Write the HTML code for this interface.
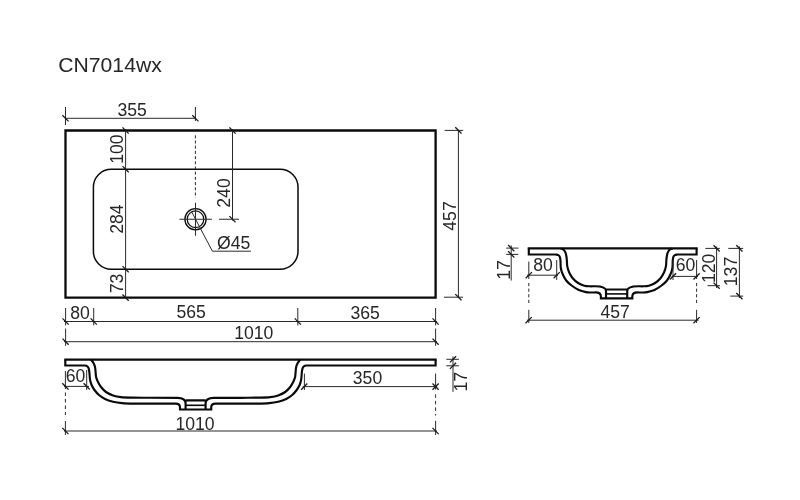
<!DOCTYPE html>
<html><head><meta charset="utf-8"><style>
html,body{margin:0;padding:0;background:#fff;width:800px;height:500px;overflow:hidden}
svg{display:block;will-change:transform}
text{font-family:"Liberation Sans",sans-serif}
</style></head><body>
<svg width="800" height="500" viewBox="0 0 800 500">
<rect width="800" height="500" fill="#fff"/>
<text transform="translate(58.2,71.8) scale(1.06,1)" x="0" y="0" font-size="20" text-anchor="start" fill="#262626">CN7014wx</text>
<path d="M65.5,130.5 H435.6 V297.6 H65.5 Z" stroke="#0a0a0a" stroke-width="2.3" fill="none" stroke-linejoin="miter" stroke-linecap="butt"/>
<path d="M111.4,169.2 H280 A18,18 0 0 1 298,187.2 V251.2 A18,18 0 0 1 280,269.2 H111.4 A18,18 0 0 1 93.4,251.2 V187.2 A18,18 0 0 1 111.4,169.2 Z" stroke="#0a0a0a" stroke-width="1.5" fill="none" stroke-linejoin="miter" stroke-linecap="butt"/>
<line x1="65.5" y1="118.3" x2="195.4" y2="118.3" stroke="#2a2a2a" stroke-width="1.0"/>
<line x1="65.5" y1="107" x2="65.5" y2="125" stroke="#2a2a2a" stroke-width="1.0"/>
<line x1="195.4" y1="107" x2="195.4" y2="121" stroke="#2a2a2a" stroke-width="1.0"/>
<line x1="62.4" y1="115.2" x2="68.6" y2="121.39999999999999" stroke="#1a1a1a" stroke-width="1.3"/>
<line x1="192.3" y1="115.2" x2="198.5" y2="121.39999999999999" stroke="#1a1a1a" stroke-width="1.3"/>
<text x="132.2" y="116" font-size="17.6" text-anchor="middle" fill="#262626">355</text>
<line x1="195.4" y1="135.3" x2="195.4" y2="198" stroke="#2a2a2a" stroke-width="1.0" stroke-dasharray="3,2.2"/>
<line x1="125.6" y1="129" x2="125.6" y2="298.5" stroke="#2a2a2a" stroke-width="1.0"/>
<line x1="122.5" y1="127.4" x2="128.7" y2="133.6" stroke="#1a1a1a" stroke-width="1.3"/>
<line x1="122.5" y1="166.1" x2="128.7" y2="172.29999999999998" stroke="#1a1a1a" stroke-width="1.3"/>
<line x1="122.5" y1="266.09999999999997" x2="128.7" y2="272.3" stroke="#1a1a1a" stroke-width="1.3"/>
<line x1="122.5" y1="294.5" x2="128.7" y2="300.70000000000005" stroke="#1a1a1a" stroke-width="1.3"/>
<text transform="translate(122.8,149.2) rotate(-90) scale(1.0,1)" x="0" y="0" font-size="17.6" text-anchor="middle" fill="#262626">100</text>
<text transform="translate(123,219.1) rotate(-90) scale(1.0,1)" x="0" y="0" font-size="17.6" text-anchor="middle" fill="#262626">284</text>
<text transform="translate(123,283.5) rotate(-90) scale(1.0,1)" x="0" y="0" font-size="17.6" text-anchor="middle" fill="#262626">73</text>
<line x1="232.5" y1="129" x2="232.5" y2="220.5" stroke="#2a2a2a" stroke-width="1.0"/>
<line x1="229.4" y1="127.4" x2="235.6" y2="133.6" stroke="#1a1a1a" stroke-width="1.3"/>
<line x1="229.4" y1="216.15" x2="235.6" y2="222.35" stroke="#1a1a1a" stroke-width="1.3"/>
<line x1="219" y1="219.25" x2="239" y2="219.25" stroke="#2a2a2a" stroke-width="1.0"/>
<text transform="translate(230.3,193) rotate(-90) scale(1.0,1)" x="0" y="0" font-size="17.6" text-anchor="middle" fill="#262626">240</text>
<circle cx="195.5" cy="219.25" r="10.6" stroke="#0a0a0a" stroke-width="1.3" fill="none"/>
<circle cx="195.5" cy="219.25" r="8.3" stroke="#0a0a0a" stroke-width="1.2" fill="none"/>
<line x1="179.4" y1="219.25" x2="211.9" y2="219.25" stroke="#2a2a2a" stroke-width="1.0"/>
<line x1="195.5" y1="202.75" x2="195.5" y2="235.75" stroke="#2a2a2a" stroke-width="1.0"/>
<path d="M191.5,211.5 L212.4,251.2 H250.9" stroke="#2a2a2a" stroke-width="1.0" fill="none" stroke-linejoin="miter" stroke-linecap="butt"/>
<text x="233.6" y="249" font-size="17.6" text-anchor="middle" fill="#262626">&#216;45</text>
<line x1="458.4" y1="130.4" x2="458.4" y2="297.2" stroke="#2a2a2a" stroke-width="1.0"/>
<line x1="444.6" y1="130.4" x2="463.2" y2="130.4" stroke="#2a2a2a" stroke-width="1.0"/>
<line x1="444" y1="297.2" x2="463" y2="297.2" stroke="#2a2a2a" stroke-width="1.0"/>
<line x1="455.29999999999995" y1="127.30000000000001" x2="461.5" y2="133.5" stroke="#1a1a1a" stroke-width="1.3"/>
<line x1="455.29999999999995" y1="294.09999999999997" x2="461.5" y2="300.3" stroke="#1a1a1a" stroke-width="1.3"/>
<text transform="translate(455.6,216) rotate(-90) scale(1.0,1)" x="0" y="0" font-size="17.6" text-anchor="middle" fill="#262626">457</text>
<line x1="64" y1="321.5" x2="437" y2="321.5" stroke="#2a2a2a" stroke-width="1.0"/>
<line x1="65.6" y1="308" x2="65.6" y2="325.4" stroke="#2a2a2a" stroke-width="1.0"/>
<line x1="62.49999999999999" y1="318.4" x2="68.69999999999999" y2="324.6" stroke="#1a1a1a" stroke-width="1.3"/>
<line x1="93.7" y1="308" x2="93.7" y2="325.4" stroke="#2a2a2a" stroke-width="1.0"/>
<line x1="90.60000000000001" y1="318.4" x2="96.8" y2="324.6" stroke="#1a1a1a" stroke-width="1.3"/>
<line x1="297.8" y1="308" x2="297.8" y2="325.4" stroke="#2a2a2a" stroke-width="1.0"/>
<line x1="294.7" y1="318.4" x2="300.90000000000003" y2="324.6" stroke="#1a1a1a" stroke-width="1.3"/>
<line x1="435.6" y1="308" x2="435.6" y2="325.4" stroke="#2a2a2a" stroke-width="1.0"/>
<line x1="432.5" y1="318.4" x2="438.70000000000005" y2="324.6" stroke="#1a1a1a" stroke-width="1.3"/>
<text x="80.1" y="319" font-size="17.6" text-anchor="middle" fill="#262626">80</text>
<text x="191.1" y="318" font-size="17.6" text-anchor="middle" fill="#262626">565</text>
<text x="365.15" y="319" font-size="17.6" text-anchor="middle" fill="#262626">365</text>
<line x1="64" y1="341.7" x2="437" y2="341.7" stroke="#2a2a2a" stroke-width="1.0"/>
<line x1="65.6" y1="328.5" x2="65.6" y2="345.8" stroke="#2a2a2a" stroke-width="1.0"/>
<line x1="62.49999999999999" y1="338.59999999999997" x2="68.69999999999999" y2="344.8" stroke="#1a1a1a" stroke-width="1.3"/>
<line x1="435.6" y1="328.5" x2="435.6" y2="345.8" stroke="#2a2a2a" stroke-width="1.0"/>
<line x1="432.5" y1="338.59999999999997" x2="438.70000000000005" y2="344.8" stroke="#1a1a1a" stroke-width="1.3"/>
<text x="253.8" y="338.9" font-size="17.6" text-anchor="middle" fill="#262626">1010</text>
<line x1="64.3" y1="359.6" x2="436.6" y2="359.6" stroke="#0a0a0a" stroke-width="2.2"/>
<path d="M65.3,359.6 V365.5 H84 C84.77,365.6 85.58,365.47 86.3,365.8 C87.02,366.13 87.82,366.63 88.3,367.5 C88.78,368.37 88.98,369.75 89.2,371 C89.42,372.25 89.45,373.5 89.6,375 C89.75,376.5 89.77,378.33 90.1,380 C90.43,381.67 90.87,383.33 91.6,385 C92.33,386.67 93.27,388.33 94.5,390 C95.73,391.67 97.25,393.5 99,395 C100.75,396.5 102.67,397.88 105,399 C107.33,400.12 110.17,401.02 113,401.7 C115.83,402.38 118.5,402.78 122,403.1 C125.5,403.42 129.33,403.51 134,403.6 C138.67,403.69 144.67,403.63 150,403.65 H175.8 C178.6,403.65 180,405 180,407.5 V409.5 H211.2 V407.5 C211.2,405 212.6,403.65 215.4,403.65 H241.2 C246.53,403.63 252.53,403.69 257.2,403.6 C261.87,403.51 265.7,403.42 269.2,403.1 C272.7,402.78 275.37,402.38 278.2,401.7 C281.03,401.02 283.87,400.12 286.2,399 C288.53,397.88 290.45,396.5 292.2,395 C293.95,393.5 295.47,391.67 296.7,390 C297.93,388.33 298.87,386.67 299.6,385 C300.33,383.33 300.77,381.67 301.1,380 C301.43,378.33 301.45,376.5 301.6,375 C301.75,373.5 301.78,372.25 302,371 C302.22,369.75 302.42,368.37 302.9,367.5 C303.38,366.63 304.18,366.13 304.9,365.8 C305.62,365.47 306.43,365.6 307.2,365.5 H435.6 V359.6" stroke="#0a0a0a" stroke-width="2.15" fill="none" stroke-linejoin="miter" stroke-linecap="butt"/>
<path d="M91,359.6 C91.83,360.73 92.83,361.77 93.5,363 C94.17,364.23 94.65,365.5 95,367 C95.35,368.5 95.42,370.33 95.6,372 C95.78,373.67 95.7,375.33 96.1,377 C96.5,378.67 97.18,380.33 98,382 C98.82,383.67 99.67,385.33 101,387 C102.33,388.67 104,390.58 106,392 C108,393.42 110.5,394.65 113,395.5 C115.5,396.35 117.83,396.75 121,397.1 C124.17,397.45 127.17,397.48 132,397.6 C136.83,397.72 144,397.73 150,397.8 H177.5 C181.5,397.8 185.6,399 185.6,403.5 V409.5 M185.6,400.4 H205.6 M205.6,409.5 V403.5 C205.6,399 209.7,397.8 213.7,397.8 H241.2 C247.2,397.73 254.37,397.72 259.2,397.6 C264.03,397.48 267.03,397.45 270.2,397.1 C273.37,396.75 275.7,396.35 278.2,395.5 C280.7,394.65 283.2,393.42 285.2,392 C287.2,390.58 288.87,388.67 290.2,387 C291.53,385.33 292.38,383.67 293.2,382 C294.02,380.33 294.7,378.67 295.1,377 C295.5,375.33 295.42,373.67 295.6,372 C295.78,370.33 295.85,368.5 296.2,367 C296.55,365.5 297.03,364.23 297.7,363 C298.37,361.77 299.37,360.73 300.2,359.6" stroke="#0a0a0a" stroke-width="2.15" fill="none" stroke-linejoin="miter" stroke-linecap="butt"/>
<line x1="185.6" y1="405.3" x2="205.6" y2="405.3" stroke="#0a0a0a" stroke-width="1.6"/>
<line x1="64" y1="386.4" x2="89" y2="386.4" stroke="#2a2a2a" stroke-width="1.0"/>
<line x1="86.7" y1="370" x2="86.7" y2="390" stroke="#2a2a2a" stroke-width="1.0"/>
<line x1="65.4" y1="371" x2="65.4" y2="389" stroke="#2a2a2a" stroke-width="1.0"/>
<line x1="65.4" y1="392.5" x2="65.4" y2="415" stroke="#2a2a2a" stroke-width="1.0" stroke-dasharray="3.5,3"/>
<line x1="65.4" y1="421" x2="65.4" y2="435" stroke="#2a2a2a" stroke-width="1.0"/>
<line x1="62.300000000000004" y1="383.29999999999995" x2="68.5" y2="389.5" stroke="#1a1a1a" stroke-width="1.3"/>
<line x1="83.60000000000001" y1="383.29999999999995" x2="89.8" y2="389.5" stroke="#1a1a1a" stroke-width="1.3"/>
<text x="75.6" y="382.4" font-size="17.6" text-anchor="middle" fill="#262626">60</text>
<line x1="302.7" y1="386.6" x2="437" y2="386.6" stroke="#2a2a2a" stroke-width="1.0"/>
<line x1="304.4" y1="373.6" x2="304.4" y2="390" stroke="#2a2a2a" stroke-width="1.0"/>
<line x1="435.6" y1="373.6" x2="435.6" y2="389.6" stroke="#2a2a2a" stroke-width="1.0"/>
<line x1="435.6" y1="394.4" x2="435.6" y2="415.5" stroke="#2a2a2a" stroke-width="1.0" stroke-dasharray="3.5,3"/>
<line x1="435.6" y1="420.8" x2="435.6" y2="435" stroke="#2a2a2a" stroke-width="1.0"/>
<line x1="301.09999999999997" y1="389.70000000000005" x2="307.3" y2="383.5" stroke="#1a1a1a" stroke-width="1.3"/>
<line x1="432.5" y1="383.5" x2="438.70000000000005" y2="389.70000000000005" stroke="#1a1a1a" stroke-width="1.3"/>
<line x1="432.5" y1="389.70000000000005" x2="438.70000000000005" y2="383.5" stroke="#1a1a1a" stroke-width="1.3"/>
<text x="367.5" y="384.4" font-size="17.6" text-anchor="middle" fill="#262626">350</text>
<line x1="64" y1="431" x2="437" y2="431" stroke="#2a2a2a" stroke-width="1.0"/>
<line x1="62.300000000000004" y1="427.9" x2="68.5" y2="434.1" stroke="#1a1a1a" stroke-width="1.3"/>
<line x1="432.5" y1="427.9" x2="438.70000000000005" y2="434.1" stroke="#1a1a1a" stroke-width="1.3"/>
<text x="195" y="429.75" font-size="17.6" text-anchor="middle" fill="#262626">1010</text>
<line x1="453" y1="356.5" x2="453" y2="391.9" stroke="#2a2a2a" stroke-width="1.0"/>
<line x1="446.3" y1="359.3" x2="458.9" y2="359.3" stroke="#2a2a2a" stroke-width="1.0"/>
<line x1="446.3" y1="365.8" x2="458.9" y2="365.8" stroke="#2a2a2a" stroke-width="1.0"/>
<line x1="449.9" y1="362.40000000000003" x2="456.1" y2="356.2" stroke="#1a1a1a" stroke-width="1.3"/>
<line x1="449.9" y1="368.90000000000003" x2="456.1" y2="362.7" stroke="#1a1a1a" stroke-width="1.3"/>
<text transform="translate(467,381.8) rotate(-90) scale(1.0,1)" x="0" y="0" font-size="17.6" text-anchor="middle" fill="#262626">17</text>
<line x1="527.7" y1="248.3" x2="697.7" y2="248.3" stroke="#0a0a0a" stroke-width="2.2"/>
<path d="M528.8,248.4 V254.5 H555.5 C556.43,254.73 557.57,254.75 558.3,255.2 C559.03,255.65 559.53,256.23 559.9,257.2 C560.27,258.17 560.35,259.2 560.5,261 C560.65,262.8 560.45,265.83 560.8,268 C561.15,270.17 561.7,271.92 562.6,274 C563.5,276.08 564.7,278.58 566.2,280.5 C567.7,282.42 569.5,283.92 571.6,285.5 C573.7,287.08 576.4,288.9 578.8,290 C581.2,291.1 583.97,291.68 586,292.1 C588.03,292.52 589.4,292.45 591,292.5 C592.6,292.55 594.07,292.43 595.6,292.4 C598.8,292.4 600.9,294 600.9,296.5 V298.3 H632.3 V296.5 C632.3,294 634.4,292.4 637.6,292.4 C639.13,292.43 640.6,292.55 642.2,292.5 C643.8,292.45 645.17,292.52 647.2,292.1 C649.23,291.68 652,291.1 654.4,290 C656.8,288.9 659.5,287.08 661.6,285.5 C663.7,283.92 665.5,282.42 667,280.5 C668.5,278.58 669.7,276.08 670.6,274 C671.5,271.92 672.05,270.17 672.4,268 C672.75,265.83 672.55,262.8 672.7,261 C672.85,259.2 672.93,258.17 673.3,257.2 C673.67,256.23 674.17,255.65 674.9,255.2 C675.63,254.75 676.77,254.73 677.7,254.5 H696.6 V248.4" stroke="#0a0a0a" stroke-width="2.15" fill="none" stroke-linejoin="miter" stroke-linecap="butt"/>
<path d="M560.8,248.4 C561.73,248.83 562.82,249 563.6,249.7 C564.38,250.4 565.02,251.38 565.5,252.6 C565.98,253.82 566.27,255.6 566.5,257 C566.73,258.4 566.77,259.43 566.9,261 C567.03,262.57 566.92,264.48 567.3,266.4 C567.68,268.32 568.3,270.53 569.2,272.5 C570.1,274.47 571.22,276.45 572.7,278.2 C574.18,279.95 576.15,281.75 578.1,283 C580.05,284.25 582.42,285.15 584.4,285.7 C586.38,286.25 588.23,286.22 590,286.3 C591.77,286.38 593.33,286.23 595,286.2 C600,286.2 606,287 606,291 V298.3 M606,289.5 H627.2 M627.2,298.3 V291 C627.2,287 633.2,286.2 638.2,286.2 C639.87,286.23 641.43,286.38 643.2,286.3 C644.97,286.22 646.82,286.25 648.8,285.7 C650.78,285.15 653.15,284.25 655.1,283 C657.05,281.75 659.02,279.95 660.5,278.2 C661.98,276.45 663.1,274.47 664,272.5 C664.9,270.53 665.52,268.32 665.9,266.4 C666.28,264.48 666.17,262.57 666.3,261 C666.43,259.43 666.47,258.4 666.7,257 C666.93,255.6 667.22,253.82 667.7,252.6 C668.18,251.38 668.82,250.4 669.6,249.7 C670.38,249 671.47,248.83 672.4,248.4" stroke="#0a0a0a" stroke-width="2.15" fill="none" stroke-linejoin="miter" stroke-linecap="butt"/>
<line x1="606" y1="293.9" x2="627.2" y2="293.9" stroke="#0a0a0a" stroke-width="1.6"/>
<line x1="511.2" y1="245.4" x2="511.2" y2="280.5" stroke="#2a2a2a" stroke-width="1.0"/>
<line x1="506.2" y1="248.1" x2="518.4" y2="248.1" stroke="#2a2a2a" stroke-width="1.0"/>
<line x1="506.2" y1="254.4" x2="518.4" y2="254.4" stroke="#2a2a2a" stroke-width="1.0"/>
<line x1="508.09999999999997" y1="245.0" x2="514.3" y2="251.2" stroke="#1a1a1a" stroke-width="1.3"/>
<line x1="508.09999999999997" y1="251.3" x2="514.3" y2="257.5" stroke="#1a1a1a" stroke-width="1.3"/>
<text transform="translate(510.3,270) rotate(-90) scale(1.0,1)" x="0" y="0" font-size="17.6" text-anchor="middle" fill="#262626">17</text>
<line x1="527" y1="275.2" x2="558" y2="275.2" stroke="#2a2a2a" stroke-width="1.0"/>
<line x1="556.7" y1="260" x2="556.7" y2="280" stroke="#2a2a2a" stroke-width="1.0"/>
<line x1="528.8" y1="261.6" x2="528.8" y2="279" stroke="#2a2a2a" stroke-width="1.0"/>
<line x1="528.8" y1="283" x2="528.8" y2="305" stroke="#2a2a2a" stroke-width="1.0" stroke-dasharray="3.2,2.4"/>
<line x1="528.8" y1="309.8" x2="528.8" y2="323" stroke="#2a2a2a" stroke-width="1.0"/>
<line x1="525.6999999999999" y1="278.3" x2="531.9" y2="272.09999999999997" stroke="#1a1a1a" stroke-width="1.3"/>
<line x1="553.6" y1="278.3" x2="559.8000000000001" y2="272.09999999999997" stroke="#1a1a1a" stroke-width="1.3"/>
<text x="543" y="271" font-size="17.6" text-anchor="middle" fill="#262626">80</text>
<line x1="671.5" y1="276.4" x2="698" y2="276.4" stroke="#2a2a2a" stroke-width="1.0"/>
<line x1="673" y1="260" x2="673" y2="280" stroke="#2a2a2a" stroke-width="1.0"/>
<line x1="696.6" y1="260" x2="696.6" y2="279" stroke="#2a2a2a" stroke-width="1.0"/>
<line x1="696.6" y1="283" x2="696.6" y2="305" stroke="#2a2a2a" stroke-width="1.0" stroke-dasharray="3.2,2.4"/>
<line x1="696.6" y1="309.8" x2="696.6" y2="323" stroke="#2a2a2a" stroke-width="1.0"/>
<line x1="669.9" y1="279.5" x2="676.1" y2="273.29999999999995" stroke="#1a1a1a" stroke-width="1.3"/>
<line x1="693.5" y1="279.5" x2="699.7" y2="273.29999999999995" stroke="#1a1a1a" stroke-width="1.3"/>
<text x="685.5" y="270.6" font-size="17.6" text-anchor="middle" fill="#262626">60</text>
<line x1="527" y1="320.2" x2="698.5" y2="320.2" stroke="#2a2a2a" stroke-width="1.0"/>
<line x1="525.5" y1="323.3" x2="531.7" y2="317.09999999999997" stroke="#1a1a1a" stroke-width="1.3"/>
<line x1="693.5" y1="323.3" x2="699.7" y2="317.09999999999997" stroke="#1a1a1a" stroke-width="1.3"/>
<text x="615.1" y="318" font-size="17.6" text-anchor="middle" fill="#262626">457</text>
<line x1="716.6" y1="246.5" x2="716.6" y2="288" stroke="#2a2a2a" stroke-width="1.0"/>
<line x1="705.3" y1="248.4" x2="719.9" y2="248.4" stroke="#2a2a2a" stroke-width="1.0"/>
<line x1="707.5" y1="285.7" x2="720" y2="285.7" stroke="#2a2a2a" stroke-width="1.0"/>
<line x1="713.5" y1="245.3" x2="719.7" y2="251.5" stroke="#1a1a1a" stroke-width="1.3"/>
<line x1="713.5" y1="282.59999999999997" x2="719.7" y2="288.8" stroke="#1a1a1a" stroke-width="1.3"/>
<text transform="translate(714.7,268.3) rotate(-90) scale(1.0,1)" x="0" y="0" font-size="17.6" text-anchor="middle" fill="#262626">120</text>
<line x1="739.4" y1="246.5" x2="739.4" y2="298" stroke="#2a2a2a" stroke-width="1.0"/>
<line x1="728.3" y1="248.4" x2="743.2" y2="248.4" stroke="#2a2a2a" stroke-width="1.0"/>
<line x1="730.3" y1="296.1" x2="743.2" y2="296.1" stroke="#2a2a2a" stroke-width="1.0"/>
<line x1="736.3" y1="245.3" x2="742.5" y2="251.5" stroke="#1a1a1a" stroke-width="1.3"/>
<line x1="736.3" y1="293.0" x2="742.5" y2="299.20000000000005" stroke="#1a1a1a" stroke-width="1.3"/>
<text transform="translate(736.75,271.5) rotate(-90) scale(1.0,1)" x="0" y="0" font-size="17.6" text-anchor="middle" fill="#262626">137</text>
</svg>
</body></html>
